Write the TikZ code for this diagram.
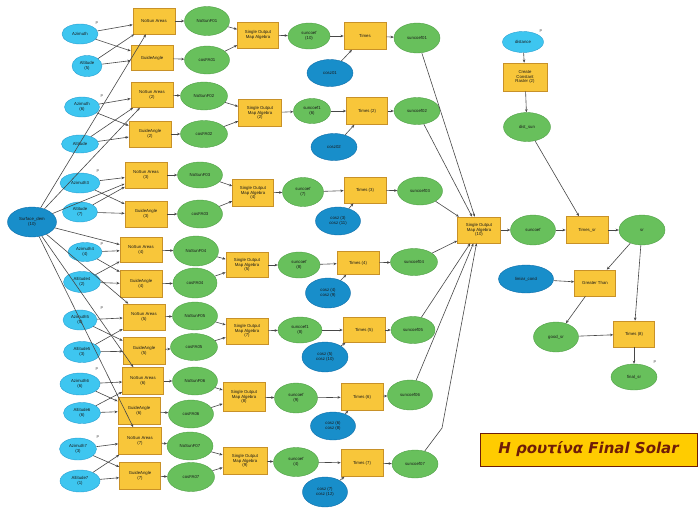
\documentclass[tikz,border=0pt]{standalone}
\usepackage{fontspec}
\setmainfont{Liberation Sans}
\newfontfamily\titlefont{DejaVu Sans}
\usetikzlibrary{shapes.geometric,arrows.meta}
\definecolor{lblue}{RGB}{62,198,240}
\definecolor{lbluedk}{RGB}{40,160,210}
\definecolor{dblue}{RGB}{24,142,202}
\definecolor{dbluedk}{RGB}{15,110,170}
\definecolor{gfill}{RGB}{104,192,92}
\definecolor{gdk}{RGB}{80,160,70}
\definecolor{yfill}{RGB}{248,198,58}
\definecolor{ydk}{RGB}{200,145,40}
\definecolor{tfill}{RGB}{255,204,0}
\definecolor{tdk}{RGB}{110,28,8}
\begin{document}
\begin{tikzpicture}[x=1pt,y=-1pt,
 base/.style={align=center,inner sep=0pt,font=\fontsize{4.3}{4.7}\selectfont,text=black!90},
 inp/.style={base,ellipse,draw=lbluedk,fill=lblue,line width=0.4pt,minimum width=36pt,minimum height=20pt},
 var/.style={base,ellipse,draw=dbluedk,fill=dblue,line width=0.4pt,minimum width=45pt,minimum height=28pt},
 outp/.style={base,ellipse,draw=gdk,fill=gfill,line width=0.4pt,minimum width=45pt,minimum height=28pt},
 tool/.style={base,rectangle,draw=ydk,fill=yfill,line width=0.6pt,minimum width=42pt,minimum height=26pt},
 con/.style={draw=black!72,line width=0.6pt,-{Stealth[length=3.2pt,width=2.6pt]}},
 pmark/.style={font=\fontsize{4}{4}\selectfont,text=black!70,inner sep=0pt},
 titlebox/.style={rectangle,draw=tdk,fill=tfill,line width=1pt,minimum width=217pt,minimum height=33pt,inner sep=0pt,
   font=\titlefont\bfseries\itshape\fontsize{15}{16}\selectfont,text=tdk}
]
\useasboundingbox (0,0) rectangle (700,509);
\fill[white] (0,0) rectangle (700,509);

% big input
\node[var,minimum width=49pt,minimum height=30pt] (dem) at (32,222) {Surface\_dem\\(10)};

% ---------- group 1
\node[inp] (az1) at (80,34) {Azimuth};
\node[inp,minimum width=30pt,minimum height=21pt] (al1) at (87,66) {Altitude\\(5)};
\node[tool] (ns1) at (154,21) {NoSun Areas};
\node[tool,minimum height=25pt] (ga1) at (152,58) {GuideAngle};
\node[outp,minimum height=29pt] (gn1) at (207,21) {NoSunF01};
\node[outp] (gc1) at (207,60) {cosFA01};
\node[tool,minimum width=41pt] (so1) at (258,35) {Single Output\\Map Algebra};
\node[outp,minimum width=42pt,minimum height=26pt] (sc1) at (309,36) {suncoef\\(10)};
\node[tool,minimum height=27pt] (tm1) at (365,36) {Times};
\node[var,minimum width=46pt,minimum height=27pt] (cz1) at (330,73) {cosz01};
\node[outp,minimum width=46pt,minimum height=30pt] (oc1) at (417,38) {suncoef01};

% ---------- group 2
\node[inp,minimum width=35pt] (az2) at (82,107) {Azimuth\\(6)};
\node[inp,minimum width=37pt,minimum height=18pt] (al2) at (80,144) {Altitude};
\node[tool,minimum height=25pt] (ns2) at (152,95) {NoSun Areas\\(2)};
\node[tool] (ga2) at (150,134) {GuideAngle\\(2)};
\node[outp,minimum width=47pt] (gn2) at (204,96) {NoSunF02};
\node[outp,minimum width=47pt,minimum height=27pt] (gc2) at (204,134) {cosFA02};
\node[tool,minimum width=43pt,minimum height=27pt] (so2) at (260,113) {Single Output\\Map Algebra\\(2)};
\node[outp,minimum width=37pt,minimum height=25pt] (sc2) at (312,111) {suncoef1\\(6)};
\node[tool,minimum width=41pt,minimum height=27pt] (tm2) at (367,111) {Times (2)};
\node[var,minimum width=46pt,minimum height=27pt] (cz2) at (334,147) {cosz02};
\node[outp,minimum width=46pt,minimum height=27pt] (oc2) at (417,111) {suncoef02};

% ---------- group 3
\node[inp,minimum width=40pt] (az3) at (80,183) {Azimuth3};
\node[inp,minimum width=35pt] (al3) at (80,212) {Altitude\\(7)};
\node[tool] (ns3) at (146,175) {NoSun Areas\\(3)};
\node[tool] (ga3) at (146,214) {GuideAngle\\(3)};
\node[outp,minimum height=26pt] (gn3) at (200,175) {NoSunF03};
\node[outp] (gc3) at (200,214) {cosFA03};
\node[tool,minimum width=41pt,minimum height=27pt] (so3) at (253,193) {Single Output\\Map Algebra\\(4)};
\node[outp,minimum width=41pt,minimum height=29pt] (sc3) at (303,192) {suncoef\\(7)};
\node[tool] (tm3) at (365,190) {Times (3)};
\node[var] (cz3) at (338,221) {cosz (3)\\cosz (11)};
\node[outp] (oc3) at (420,191) {suncoef03};

% ---------- group 4
\node[inp,minimum width=34pt,minimum height=19pt] (az4) at (85,252) {Azimuth4\\(4)};
\node[inp,minimum width=37pt,minimum height=21pt] (al4) at (82,282) {Altitude4\\(2)};
\node[tool,minimum height=25pt] (ns4) at (141,250) {NoSun Areas\\(4)};
\node[tool,minimum height=27pt] (ga4) at (141,284) {GuideAngle\\(4)};
\node[outp,minimum height=30pt] (gn4) at (196,251) {NoSunF04};
\node[outp,minimum width=44pt,minimum height=30pt] (gc4) at (195,283) {cosFA04};
\node[tool,minimum height=25pt] (so4) at (247,265) {Single Output\\Map Algebra\\(5)};
\node[outp,minimum width=42pt,minimum height=26pt] (sc4) at (299,265) {suncoef\\(8)};
\node[tool,minimum height=23pt] (tm4) at (358,263) {Times (4)};
\node[var,minimum height=30pt] (cz4) at (328,293) {cosz (4)\\cosz (9)};
\node[outp,minimum width=47pt,minimum height=27pt] (oc4) at (414,262) {suncoef04};

% ---------- group 5
\node[inp,minimum width=34pt] (az5) at (80,320) {Azimuth5\\(5)};
\node[inp,minimum width=37pt,minimum height=21pt] (al5) at (82,352) {Altitude5\\(3)};
\node[tool] (ns5) at (144,317) {NoSun Areas\\(5)};
\node[tool,minimum height=27pt] (ga5) at (144,351) {GuideAngle\\(5)};
\node[outp] (gn5) at (195,316) {NoSunF05};
\node[outp,minimum width=47pt,minimum height=27pt] (gc5) at (194,347) {cosFA05};
\node[tool] (so5) at (247,331) {Single Output\\Map Algebra\\(7)};
\node[outp,minimum width=44pt,minimum height=26pt] (sc5) at (300,330) {suncoef1\\(8)};
\node[tool,minimum height=25pt] (tm5) at (364,330) {Times (5)};
\node[var,minimum width=46pt,minimum height=30pt] (cz5) at (325,357) {cosz (5)\\cosz (10)};
\node[outp,minimum width=44pt,minimum height=27pt] (oc5) at (413,330) {suncoef05};

% ---------- group 6
\node[inp,minimum width=40pt,minimum height=22pt] (az6) at (80,384) {Azimuth6\\(6)};
\node[inp,minimum width=37pt,minimum height=21pt] (al6) at (82,413) {Altitude6\\(6)};
\node[tool,minimum width=41pt,minimum height=27pt] (ns6) at (143,381) {NoSun Areas\\(6)};
\node[tool,minimum height=27pt] (ga6) at (139,411) {GuideAngle\\(6)};
\node[outp] (gn6) at (195,381) {NoSunF06};
\node[outp] (gc6) at (191,414) {cosFA06};
\node[tool,minimum height=29pt] (so6) at (244,397) {Single Output\\Map Algebra\\(8)};
\node[outp,minimum width=43pt,minimum height=30pt] (sc6) at (296,398) {suncoef\\(9)};
\node[tool,minimum height=27pt] (tm6) at (362,397) {Times (6)};
\node[var] (cz6) at (333,426) {cosz (6)\\cosz (8)};
\node[outp,minimum height=30pt] (oc6) at (410,395) {suncoef06};

% ---------- group 7
\node[inp,minimum width=37pt,minimum height=22pt] (az7) at (78,449) {Azimuth7\\(3)};
\node[inp,minimum width=40pt,minimum height=22pt] (al7) at (80,481) {Altitude7\\(1)};
\node[tool,minimum width=43pt,minimum height=27pt] (ns7) at (140,441) {NoSun Areas\\(7)};
\node[tool,minimum width=41pt,minimum height=27pt] (ga7) at (140,476) {GuideAngle\\(7)};
\node[outp,minimum width=46pt] (gn7) at (190,446) {NoSunF07};
\node[outp,minimum width=47pt,minimum height=29pt] (gc7) at (191,477) {cosFA07};
\node[tool,minimum width=44pt,minimum height=27pt] (so7) at (245,461) {Single Output\\Map Algebra\\(9)};
\node[outp,minimum height=29pt] (sc7) at (296,462) {suncoef\\(4)};
\node[tool,minimum height=27pt] (tm7) at (362,463) {Times (7)};
\node[var,minimum height=30pt] (cz7) at (325,492) {cosz (7)\\cosz (12)};
\node[outp,minimum width=46pt] (oc7) at (415,464) {suncoef07};

% ---------- right part
\node[tool,minimum width=43pt] (fso) at (479,230) {Single Output\\Map Algebra\\(10)};
\node[outp,minimum height=30pt] (suncoef) at (533,230) {suncoef};
\node[tool,minimum height=27pt] (timessr) at (587,230) {Times\_sr};
\node[outp,minimum width=46pt,minimum height=30pt] (sr) at (642,230) {sr};
\node[inp,minimum width=41pt,minimum height=21pt] (dist) at (523,42) {distance};
\node[tool,minimum width=44pt,minimum height=28pt] (ccr) at (525,77) {Create\\Constant\\Raster (2)};
\node[outp,minimum width=47pt,minimum height=29pt] (distsun) at (527,127) {dist\_sun};
\node[var,minimum width=55pt,minimum height=28pt] (solrad) at (526,279) {limiar\_cond};
\node[tool,minimum width=41pt] (gt) at (595,283) {Greater Than};
\node[outp,minimum height=30pt] (goodsr) at (556,337) {good\_sr};
\node[tool,minimum width=41pt] (t8) at (634,334) {Times (8)};
\node[outp,minimum width=46pt,minimum height=26pt] (finalsr) at (634,377) {final\_sr};

% parameter marks
\node[pmark] (p1) at (97,23) {P};
\node[pmark] (p2) at (102,96) {P};
\node[pmark] (p3) at (98,171) {P};
\node[pmark] (p4) at (102,244) {P};
\node[pmark] (p5) at (102,308) {P};
\node[pmark] (p6) at (97,369) {P};
\node[pmark] (p7) at (98,437) {P};
\node[pmark] (p8) at (541,31) {P};
\node[pmark] (p9) at (655,362) {P};

% title
\node[titlebox] (ttl) at (588.5,449.5) {Η ρουτίνα Final Solar};

% ---------- connectors
\foreach \i in {1,...,7}{
  \draw[con] (dem) -- (ns\i);
  \draw[con] (az\i) -- (ns\i);
  \draw[con] (az\i) -- (ga\i);
  \draw[con] (al\i) -- (ns\i);
  \draw[con] (al\i) -- (ga\i);
  \draw[con] (ns\i) -- (gn\i);
  \draw[con] (ga\i) -- (gc\i);
  \draw[con] (gn\i) -- (so\i);
  \draw[con] (gc\i) -- (so\i);
  \draw[con] (so\i) -- (sc\i);
  \draw[con] (sc\i) -- (tm\i);
  \draw[con] (cz\i) -- (tm\i);
  \draw[con] (tm\i) -- (oc\i);
}
\foreach \i in {1,...,6}{
  \draw[con] (oc\i) -- (fso);
}
\coordinate (bend7) at (442,428);
\draw[con] (oc7) -- (bend7) -- (fso);

\draw[con] (fso) -- (suncoef);
\draw[con] (suncoef) -- (timessr);
\draw[con] (timessr) -- (sr);
\draw[con] (dist) -- (ccr);
\draw[con] (ccr) -- (distsun);
\draw[con] (distsun) -- (timessr);
\draw[con] (sr) -- (gt);
\draw[con] (solrad) -- (gt);
\draw[con] (gt) -- (goodsr);
\draw[con] (goodsr) -- (t8);
\draw[con] (sr) -- (t8);
\draw[con] (t8) -- (finalsr);
\end{tikzpicture}
\end{document}
